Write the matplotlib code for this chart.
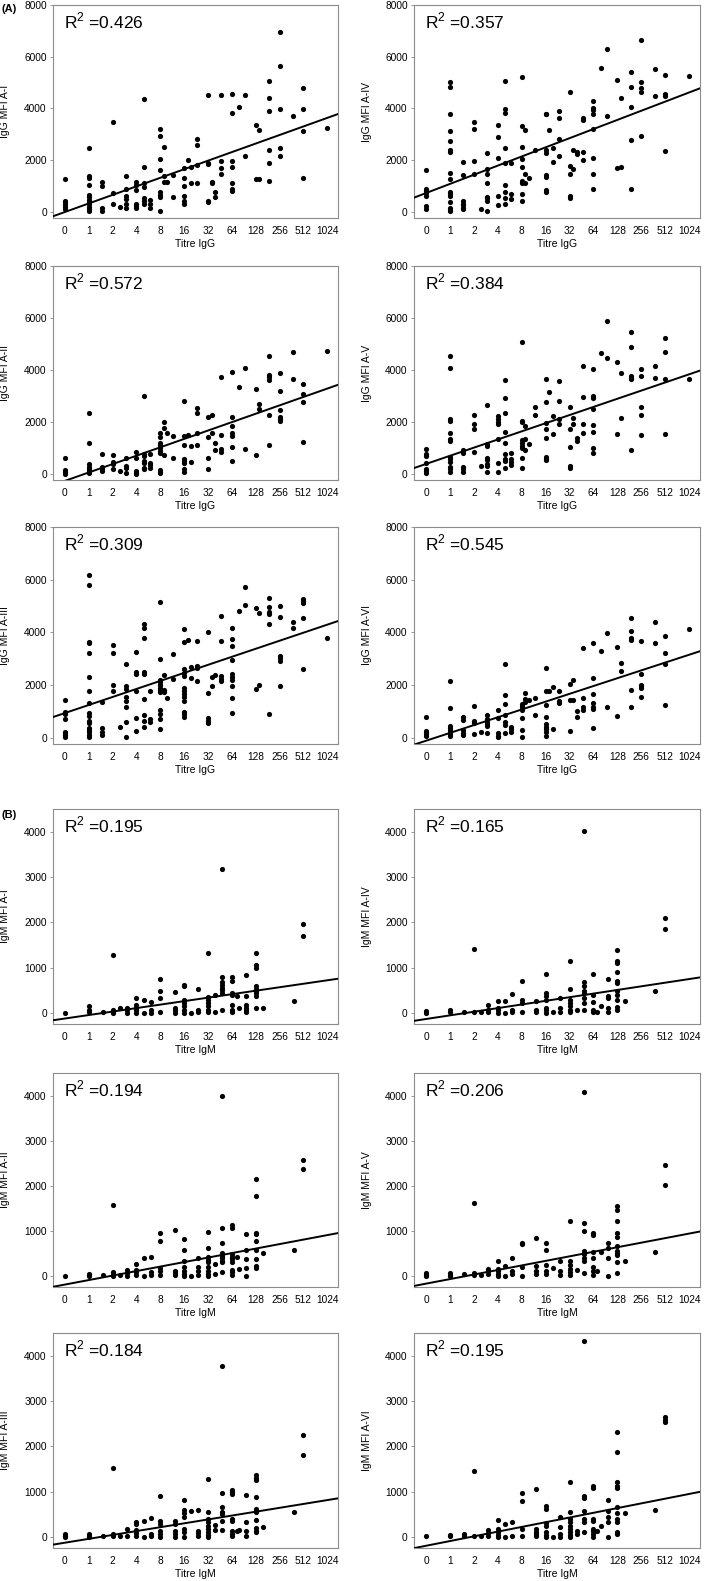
import numpy as np
import matplotlib
matplotlib.use("Agg")
import matplotlib.pyplot as plt

plt.rcParams['font.family'] = ['Liberation Sans', 'DejaVu Sans']
plt.rcParams['mathtext.fontset'] = 'custom'
plt.rcParams['mathtext.rm'] = 'Liberation Sans'

# x position = log2(titre) + 1, 0 = negative
TICK_POS = list(range(12))
TICK_LABELS = ['0', '1', '2', '4', '8', '16', '32', '64', '128', '256', '512', '1024']

# ---- (A) IgG panels: {x position: [MFI values]} ----
IGG_AI = {
    0: [1250, 430, 350, 280, 200, 120],
    1: [2480, 1400, 1300, 1040, 660, 560, 460, 370, 300, 200, 100, 30],
    1.55: [1150, 980, 150, 50], 2: [3470, 720, 290], 2.3: [200],
    2.55: [1400, 880, 620, 480, 300, 130], 3: [1150, 1020, 840, 310, 220, 150],
    3.3: [4380, 1720, 1100, 960, 530, 400, 300], 3.55: [450, 300, 160],
    4: [3220, 2950, 2050, 1600, 760, 660, 560, 50], 4.15: [2520, 1400, 1150],
    4.3: [1150], 4.55: [1420, 560], 5: [1700, 1300, 1000, 620, 420, 300],
    5.15: [2000], 5.3: [1750, 1100], 5.55: [2820, 2600, 1820, 1100],
    6: [4510, 1900, 1850, 410, 360], 6.15: [1170, 1130], 6.3: [760, 560],
    6.55: [4510, 1980, 1680, 1450], 7: [4540, 3840, 1980, 1720, 1130, 870, 800],
    7.3: [4040], 7.55: [4520, 2140], 8: [3370, 1280], 8.15: [3170, 1250],
    8.55: [5050, 4390, 3900, 2400, 1900, 1180], 9: [6970, 5650, 3970, 2460, 2150],
    9.55: [3720], 10: [4780, 3960, 3140, 1320], 11: [3240],
}
IGG_AII = {
    0: [590, 140, 80, 10], 1: [2340, 1180, 370, 270, 200, 120, 40],
    1.55: [760, 270, 190, 100], 2: [720, 450, 360, 190], 2.3: [100],
    2.55: [620, 300, 230, 40], 3: [850, 590, 90, 40, 0],
    3.3: [2980, 770, 690, 490, 400, 230, 170], 3.55: [780, 420, 330, 230],
    4: [1580, 1410, 1190, 1100, 1000, 890, 810, 140, 80, 30], 4.15: [2000, 1770, 720],
    4.3: [1560], 4.55: [1440, 620], 5: [2800, 1440, 1090, 550, 480, 400, 190, 60],
    5.15: [1490], 5.3: [1070, 450], 5.55: [2520, 2350, 1580, 1120],
    6: [2180, 1430, 590, 190], 6.15: [2260, 1570], 6.3: [1180, 900],
    6.55: [3720, 1500, 940, 850], 7: [3930, 2170, 1840, 1570, 1450, 1040, 500],
    7.3: [3340], 7.55: [4070, 960], 8: [3250, 720], 8.15: [2680, 2490],
    8.55: [4550, 3810, 3740, 3610, 2260, 1100], 9: [3880, 3170, 2440, 2200, 2110, 2020],
    9.55: [4680, 3630], 10: [3470, 3060, 2760, 1220], 11: [4710],
}
IGG_AIII = {
    0: [1430, 990, 900, 710, 230, 170, 100, 10],
    1: [6180, 5800, 3640, 3580, 3200, 2300, 1780, 1310, 930, 840, 650, 550, 360, 290, 200, 100, 40],
    1.55: [1350, 380, 230, 100], 2: [3520, 3200, 1990, 1760], 2.3: [420],
    2.55: [2780, 1970, 1860, 1530, 1410, 1180, 590, 20], 3: [3250, 2500, 2420, 1770, 740, 250],
    3.3: [4300, 4150, 3800, 2500, 2400, 1460, 870, 620, 400], 3.55: [1780, 700, 600],
    4: [5170, 3000, 2200, 2100, 1990, 1890, 1810, 1730, 1060, 890, 700, 320],
    4.15: [2380, 1810, 1720], 4.3: [1490], 4.55: [3170, 2240],
    5: [4140, 3640, 2610, 2450, 2330, 1890, 1780, 1670, 1530, 1410, 990, 890, 800],
    5.15: [3720], 5.3: [2690, 2250], 5.55: [3660, 2740, 2660, 2170],
    6: [4030, 1690, 740, 640, 550], 6.15: [2310, 1970], 6.3: [2370],
    6.55: [4620, 3680, 2330, 2230, 2170],
    7: [4170, 3740, 3480, 2940, 2400, 2310, 2200, 1960, 1490, 930],
    7.3: [4810], 7.55: [5710, 5050], 8: [4940, 1850], 8.15: [4750, 2010],
    8.55: [5290, 4970, 4780, 4710, 4300, 890], 9: [5010, 4570, 3100, 3010, 2930, 1970],
    9.55: [4410, 4180], 10: [5260, 5200, 5130, 4540, 2610], 11: [3770],
}
IGG_AIV = {
    0: [1600, 880, 800, 740, 600, 210, 120],
    1: [5020, 4840, 3780, 3130, 2720, 2380, 2330, 1500, 1260, 760, 680, 600, 390, 130, 80, 50],
    1.55: [1930, 1420, 400, 320, 250, 160, 100], 2: [3460, 3200, 1970, 1480], 2.3: [120],
    2.55: [2280, 1650, 1460, 1120, 590, 520, 430, 30], 3: [3350, 2900, 2080, 600, 260],
    3.3: [5060, 3970, 3820, 2480, 1880, 1050, 760, 520, 290], 3.55: [1880, 680, 480],
    4: [5200, 3300, 2490, 2050, 1720, 1200, 1110, 700, 420], 4.15: [3150, 1480, 1130],
    4.3: [1290], 4.55: [2400], 5: [3790, 3770, 2400, 2270, 1430, 1360, 850, 780],
    5.15: [3170], 5.3: [2460, 1920], 5.55: [3900, 3640, 2810, 2140],
    6: [4640, 1780, 1460, 600, 540], 6.15: [2380, 1650], 6.3: [2300, 2220],
    6.55: [3610, 3560, 2300, 2000], 7: [4300, 4000, 3920, 3800, 3190, 2080, 1470, 890],
    7.3: [5570], 7.55: [6300, 3690], 8: [5090, 1690], 8.15: [4400, 1720],
    8.55: [5420, 4810, 4070, 2790, 900], 9: [6650, 5020, 4770, 4620, 2920],
    9.55: [5530, 4470], 10: [5300, 4550, 4470, 2340], 11: [5270],
}
IGG_AV = {
    0: [960, 770, 680, 420, 190, 100, 40],
    1: [4520, 4070, 2120, 2050, 1580, 1350, 1250, 640, 550, 450, 260, 170, 60],
    1.55: [900, 810, 260, 170, 60], 2: [2250, 1900, 1720, 850], 2.3: [300],
    2.55: [2640, 1130, 1050, 600, 520, 390, 280, 60], 3: [2230, 2100, 2000, 1920, 1320, 420, 60],
    3.3: [3620, 2910, 2350, 1600, 1200, 770, 580, 480, 230], 3.55: [790, 580, 450, 320],
    4: [5070, 2050, 1980, 1310, 1200, 1080, 1000, 590, 220], 4.15: [1830, 1340, 920],
    4.3: [1140], 4.55: [2560, 2250], 5: [3640, 2780, 1960, 1740, 1370, 650, 580, 520],
    5.15: [3150], 5.3: [2240, 1520], 5.55: [3580, 2800, 2120, 1900],
    6: [2580, 1710, 1040, 300, 240], 6.15: [2150, 1920], 6.3: [1390, 1250],
    6.55: [4150, 2960, 1910, 1560], 7: [4040, 2990, 2920, 2490, 1870, 1620, 990, 800],
    7.3: [4650], 7.55: [5880, 4440], 8: [4300, 1530], 8.15: [3890, 2140],
    8.55: [5440, 4870, 3750, 3690, 3630, 920], 9: [4040, 3750, 2580, 2280, 1480],
    9.55: [4160, 3700], 10: [5230, 4700, 3640, 1530], 11: [3640],
}
IGG_AVI = {
    0: [780, 270, 190, 130, 60], 1: [2150, 1120, 450, 360, 290, 200, 140, 80],
    1.55: [780, 680, 290, 190, 100], 2: [1210, 640, 550, 140], 2.3: [230],
    2.55: [870, 700, 610, 520, 450, 190], 3: [1040, 740, 170, 80, 40],
    3.3: [2790, 1620, 1270, 880, 590, 480, 190], 3.55: [420, 330, 230],
    4: [1290, 1210, 1150, 1060, 760, 290, 40], 4.15: [1710, 1450, 1360], 4.3: [1440],
    4.55: [1490, 880], 5: [2640, 1770, 1240, 780, 510, 420, 330, 230, 60],
    5.15: [1760], 5.3: [1920, 320], 5.55: [1770, 1380, 1310],
    6: [2030, 1440, 270], 6.15: [2200, 1420], 6.3: [1030, 780],
    6.55: [3400, 1500, 1180, 1060], 7: [3610, 2270, 1660, 1310, 1180, 1080, 380],
    7.3: [3300], 7.55: [3990, 1150], 8: [3430, 830], 8.15: [2840, 2550],
    8.55: [4560, 4040, 3770, 3720, 1820, 1150], 9: [3660, 2410, 2010, 1950, 1870, 1540],
    9.55: [4410, 3590], 10: [3870, 3220, 2800, 1250], 11: [4110],
}

# ---- (B) IgM panels ----
IGM_AI = {
    0: [0], 1: [160, 60, 15], 1.6: [15], 2: [1270, 70, 30, 0], 2.3: [110],
    2.6: [110, 60, 0], 3: [320, 180, 110, 60, 0], 3.3: [280, 0], 3.6: [240, 60, 0],
    4: [740, 490, 330, 20], 4.6: [460, 100, 60, 0],
    5: [610, 590, 290, 220, 150, 70, 0], 5.3: [0], 5.6: [520, 70, 20],
    6: [1320, 350, 290, 220, 150, 70, 15], 6.3: [390, 15],
    6.6: [3180, 790, 680, 610, 550, 500, 440, 70],
    7: [800, 700, 440, 390, 180, 60, 15], 7.2: [380], 7.3: [100],
    7.6: [830, 380, 180, 110, 60, 15],
    8: [1320, 1060, 990, 590, 530, 480, 430, 370, 110], 8.3: [100],
    9.6: [260], 10: [1970, 1690],
}
IGM_AII = {
    0: [0], 1: [45, 0], 1.6: [20], 2: [1570, 80, 45, 0], 2.3: [20],
    2.6: [130, 60, 0], 3: [270, 130, 80, 20], 3.3: [400, 0], 3.6: [410, 80, 20],
    4: [960, 770, 170, 100, 20], 4.6: [1010, 100, 60, 20],
    5: [830, 570, 340, 190, 100, 45, 0], 5.3: [0], 5.6: [400, 190, 100, 20],
    6: [970, 630, 430, 360, 300, 190, 100, 45, 0], 6.3: [260, 40],
    6.6: [4000, 1070, 720, 510, 450, 400, 340, 300, 80],
    7: [1120, 1070, 490, 430, 380, 320, 130, 80, 20], 7.2: [430], 7.3: [150],
    7.6: [920, 580, 370, 170, 0],
    8: [2140, 1780, 960, 920, 780, 580, 370, 210, 170], 8.3: [510],
    9.6: [580], 10: [2580, 2380],
}
IGM_AIII = {
    0: [60, 20, 0], 1: [60, 20, 0], 1.6: [20], 2: [1530, 60, 20], 2.3: [10],
    2.6: [170, 10], 3: [330, 280, 150, 80, 20], 3.3: [360, 0], 3.6: [410, 60, 20],
    4: [910, 350, 280, 130, 60, 0], 4.6: [350, 280, 130, 60, 0],
    5: [810, 590, 520, 450, 170, 100, 0], 5.3: [570], 5.6: [590, 130, 80, 20],
    6: [1270, 560, 390, 320, 240, 170, 110, 50, 0], 6.3: [260, 150],
    6.6: [3780, 960, 660, 560, 500, 350, 150],
    7: [1040, 1000, 950, 400, 350, 130, 60, 20], 7.2: [130], 7.3: [150],
    7.6: [930, 330, 130, 10],
    8: [1360, 1300, 1260, 870, 610, 550, 380, 190, 130, 100], 8.3: [220],
    9.6: [550], 10: [2250, 1810],
}
IGM_AIV = {
    0: [40, 0], 1: [60, 15], 1.6: [15], 2: [1420, 30], 2.3: [15],
    2.6: [180, 60, 15], 3: [260, 110, 60, 0], 3.3: [260, 0], 3.6: [420, 60, 15],
    4: [710, 280, 220, 15], 4.6: [260, 70, 30],
    5: [850, 430, 370, 280, 110, 60, 0], 5.3: [15], 5.6: [320, 110, 15],
    6: [1150, 530, 290, 220, 160, 70, 15], 6.3: [60],
    6.6: [4010, 680, 590, 480, 430, 330, 220, 70],
    7: [860, 390, 240, 70, 15], 7.15: [20], 7.3: [150],
    7.6: [750, 380, 330, 110, 15],
    8: [1380, 1150, 1100, 900, 700, 660, 480, 400, 290, 130, 70], 8.3: [260],
    9.55: [480], 10: [2100, 1850],
}
IGM_AV = {
    0: [60, 20, 0], 1: [60, 20, 0], 1.6: [40], 2: [1620, 60, 20], 2.3: [20],
    2.6: [160, 100, 40], 3: [340, 160, 100, 40, 0], 3.3: [220, 0], 3.6: [400, 100, 40],
    4: [730, 700, 190, 0], 4.6: [840, 230, 100, 50],
    5: [720, 570, 250, 100, 40], 5.3: [170], 5.6: [340, 100, 20],
    6: [1220, 340, 250, 160, 80, 20], 6.3: [130],
    6.6: [4070, 1170, 990, 550, 490, 400, 340, 60],
    7: [960, 900, 520, 400, 190, 100, 20], 7.15: [100], 7.3: [520],
    7.6: [730, 620, 400, 0],
    8: [1540, 1460, 1220, 960, 870, 660, 560, 510, 460, 300, 60], 8.3: [340],
    9.55: [540], 10: [2450, 2020],
}
IGM_AVI = {
    0: [20], 1: [45, 10], 1.6: [60, 10], 2: [1450, 20], 2.3: [20],
    2.6: [150, 80, 20], 3: [370, 170, 100, 45, 0], 3.3: [280, 0], 3.6: [320, 20],
    4: [960, 800, 170, 10], 4.6: [1050, 170, 110, 60, 20],
    5: [690, 610, 300, 240, 100, 40, 0], 5.3: [0], 5.6: [430, 210, 60, 0],
    6: [1220, 560, 390, 320, 240, 170, 110, 50, 0], 6.3: [130, 60],
    6.6: [4330, 910, 850, 580, 390, 320, 100],
    7: [1130, 1070, 400, 350, 170, 120, 60, 0], 7.15: [120], 7.3: [240],
    7.6: [820, 580, 440, 320, 0],
    8: [2310, 1870, 1220, 1130, 1090, 670, 520, 390, 330, 110, 70], 8.3: [520],
    9.55: [590], 10: [2640, 2580, 2540],
}

# fit lines: (intercept, slope per titre step)
IGG_FITS = {'A-I': (-8, 331), 'A-II': (-273, 323), 'A-III': (936, 305),
            'A-IV': (724, 354), 'A-V': (377, 314), 'A-VI': (-117, 297)}
IGM_FITS = {'A-I': (-124, 76.7), 'A-II': (-191, 99.7), 'A-III': (-128, 85.5),
            'A-IV': (-135, 80.2), 'A-V': (-171, 101), 'A-VI': (-196, 104)}
IGG_R2 = {'A-I': 0.426, 'A-II': 0.572, 'A-III': 0.309,
          'A-IV': 0.357, 'A-V': 0.384, 'A-VI': 0.545}
IGM_R2 = {'A-I': 0.195, 'A-II': 0.194, 'A-III': 0.184,
          'A-IV': 0.165, 'A-V': 0.206, 'A-VI': 0.195}

W, H = 705, 1581
fig = plt.figure(figsize=(W / 100, H / 100), dpi=100)

COLS = [(53, 338), (414, 700)]
ROWS_A = [(5, 218), (266, 480), (527, 744)]
ROWS_B = [(809, 1024), (1073, 1287), (1333, 1548)]
XLIM = (-0.5, 11.45)
# y label offset (axes fraction) per column
YLAB_X = [-0.15, -0.147]


def add_axes_px(left, right, top, bottom):
    return fig.add_axes([left / W, 1 - bottom / H, (right - left) / W, (bottom - top) / H])


def draw_panel(ax, cols, fit, r2, iso, ig, ylim, yticks, ylab_x):
    xs, ys = [], []
    for pos, vals in cols.items():
        xs += [pos] * len(vals)
        ys += vals
    ax.scatter(xs, ys, s=14, color='black', linewidths=0, zorder=3)
    b0, b1 = fit
    lx = np.array(XLIM)
    ax.plot(lx, b0 + b1 * lx, color='black', lw=1.4, zorder=4)
    ax.set_xlim(*XLIM)
    ax.set_ylim(*ylim)
    ax.set_xticks(TICK_POS)
    ax.set_xticklabels(TICK_LABELS)
    ax.set_yticks(yticks)
    ax.tick_params(axis='both', labelsize=7.3, length=2.5, width=0.6,
                   color='#888888', pad=2)
    ax.tick_params(axis='x', length=0, pad=6)
    for sp in ax.spines.values():
        sp.set_color('#8c8c8c')
        sp.set_linewidth(0.8)
    ax.set_xlabel(f'Titre {ig}', fontsize=7.5, labelpad=2)
    ax.set_ylabel(f'{ig} MFI {iso}', fontsize=7.5)
    ax.yaxis.set_label_coords(ylab_x, 0.5)
    ax.text(0.04, 0.975, f'R$^{{2}}$ =' + f'{r2:.3f}', transform=ax.transAxes,
            fontsize=12.5, ha='left', va='top')


iso_left = ['A-I', 'A-II', 'A-III']
iso_right = ['A-IV', 'A-V', 'A-VI']
igg_data = {'A-I': IGG_AI, 'A-II': IGG_AII, 'A-III': IGG_AIII,
            'A-IV': IGG_AIV, 'A-V': IGG_AV, 'A-VI': IGG_AVI}
igm_data = {'A-I': IGM_AI, 'A-II': IGM_AII, 'A-III': IGM_AIII,
            'A-IV': IGM_AIV, 'A-V': IGM_AV, 'A-VI': IGM_AVI}

for c, isos in enumerate([iso_left, iso_right]):
    for r, iso in enumerate(isos):
        ax = add_axes_px(COLS[c][0], COLS[c][1], ROWS_A[r][0], ROWS_A[r][1])
        draw_panel(ax, igg_data[iso], IGG_FITS[iso], IGG_R2[iso], iso, 'IgG',
                   (-240, 8000), [0, 2000, 4000, 6000, 8000], YLAB_X[c])
        ax = add_axes_px(COLS[c][0], COLS[c][1], ROWS_B[r][0], ROWS_B[r][1])
        draw_panel(ax, igm_data[iso], IGM_FITS[iso], IGM_R2[iso], iso, 'IgM',
                   (-245, 4500), [0, 1000, 2000, 3000, 4000], YLAB_X[c])

fig.text(2 / W, 1 - 9 / H, '(A)', fontsize=8, fontweight='bold', va='center', ha='left')
fig.text(2 / W, 1 - 815 / H, '(B)', fontsize=8, fontweight='bold', va='center', ha='left')

fig.savefig('out.png', dpi=100)
